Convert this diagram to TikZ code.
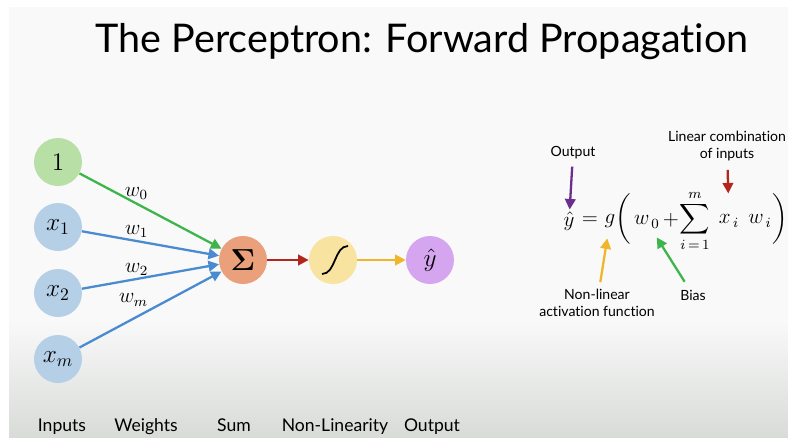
\documentclass[tikz,border=0pt]{standalone}
\usepackage{amsmath}
\usepackage{amssymb}
\usepackage[no-math]{fontspec}
\setmainfont{Lato}[Ligatures=NoCommon]
\usetikzlibrary{arrows.meta}

\definecolor{fgreen}{HTML}{B7DFA6}
\definecolor{fblue}{HTML}{B5CFE7}
\definecolor{forange}{HTML}{E9A07B}
\definecolor{fyellow}{HTML}{F9E3A1}
\definecolor{fpurple}{HTML}{D6A5EF}
\definecolor{agreen}{HTML}{3DB54A}
\definecolor{ablue}{HTML}{4A8AD1}
\definecolor{ared}{HTML}{B3261E}
\definecolor{ayellow}{HTML}{F0B52A}
\definecolor{apurple}{HTML}{6B2D90}
\definecolor{slide}{HTML}{F8F9F8}
\definecolor{slidelow}{HTML}{D9DBD9}

\begin{document}
\begin{tikzpicture}[x=0.02cm,y=-0.02cm,
    neuron/.style={circle, minimum size=0.96cm, inner sep=0pt, font=\Large},
    arr/.style={-{Triangle[length=6pt,width=6pt]}, line width=1.3pt},
    wlabel/.style={inner sep=1.5pt, text=black, font=\large},
    piece/.style={inner sep=0pt, font=\large},
    note/.style={font=\fontsize{8}{9.5}\selectfont, align=center, inner sep=1pt},
    caption/.style={font=\fontsize{10}{12}\selectfont, anchor=base}]

    % Slide background
    \useasboundingbox (0,0) rectangle (788,437);
    \fill[white] (0,0) rectangle (788,437);
    \fill[slide] (9,7) rectangle (788,437);
    \shade[top color=slide, bottom color=slidelow] (9,320) rectangle (788,437);

    % Title
    \node[font=\fontsize{22.5}{26}\selectfont, anchor=base] (title) at (422,52) {The Perceptron: Forward Propagation};

    % Inputs
    \node[neuron, fill=fgreen] (one) at (58,162) {$1$};
    \foreach \i/\y in {1/227, 2/293, m/359} {
        \node[neuron, fill=fblue] (x\i) at (58,\y) {$x_\i$};
    }

    % Sum, non-linearity, output
    \node[neuron, fill=forange, font=\LARGE] (sum) at (243,260) {$\boldsymbol{\Sigma}$};
    \node[neuron, fill=fyellow] (act) at (333,260) {};
    \node[neuron, fill=fpurple] (out) at (430,260) {$\hat{y}$};
    \draw[line width=1pt] (act.center) ++(-11,14) .. controls +(14,0) and +(-14,0) .. ++(26,-28);

    % Weighted connections
    \draw[arr, agreen] (one) -- node[wlabel, pos=0.4, above] {$w_0$} (sum);
    \draw[arr, ablue] (x1) -- node[wlabel, pos=0.4, above] {$w_1$} (sum);
    \draw[arr, ablue] (x2) -- node[wlabel, pos=0.4, above] {$w_2$} (sum);
    \draw[arr, ablue] (xm) -- node[wlabel, pos=0.38, above=5pt] {$w_m$} (sum);
    \draw[arr, ared] (sum) -- (act);
    \draw[arr, ayellow] (act) -- (out);

    % Equation
    \node[piece] (yhat) at (569,221) {$\hat{y}$};
    \node[piece] (eqs) at (590,221) {$=$};
    \node[piece] (gfun) at (610,221) {$g$};
    \node[piece] (lpar) at (623,219) {$\bigg($};
    \node[piece] (wzero) at (647,222) {$w_{\,0}$};
    \node[piece] (plus) at (671,220) {$+$};
    \node[piece] (sigma) at (695,221) {$\displaystyle\sum_{i\,=\,1}^{m}$};
    \node[piece] (xi) at (729,221) {$x_{\,i}$};
    \node[piece] (wi) at (760,221) {$w_{\,i}$};
    \node[piece] (rpar) at (780,219) {$\bigg)$};

    % Notes on the equation
    \node[note] (outtxt) at (573,153) {Output};
    \node[note] (lintxt) at (727,146) {Linear combination\\of inputs};
    \node[note] (acttxt) at (597,303) {Non-linear\\activation function};
    \node[note] (biastxt) at (693,295) {Bias};
    \draw[arr, apurple, shorten <=3pt, shorten >=1pt] (outtxt) -- (yhat);
    \draw[arr, ared, shorten <=4pt, shorten >=12pt] (lintxt) -- (xi);
    \draw[arr, ayellow, shorten <=3pt, shorten >=6pt] (acttxt) -- (gfun);
    \draw[arr, agreen, shorten <=4pt, shorten >=6pt] (biastxt) -- (wzero);

    % Captions
    \node[caption] (capin) at (62,431) {Inputs};
    \node[caption] (capw) at (146,431) {Weights};
    \node[caption] (capsum) at (234,431) {Sum};
    \node[caption] (capact) at (335,431) {Non-Linearity};
    \node[caption] (capout) at (432,431) {Output};
\end{tikzpicture}
\end{document}
